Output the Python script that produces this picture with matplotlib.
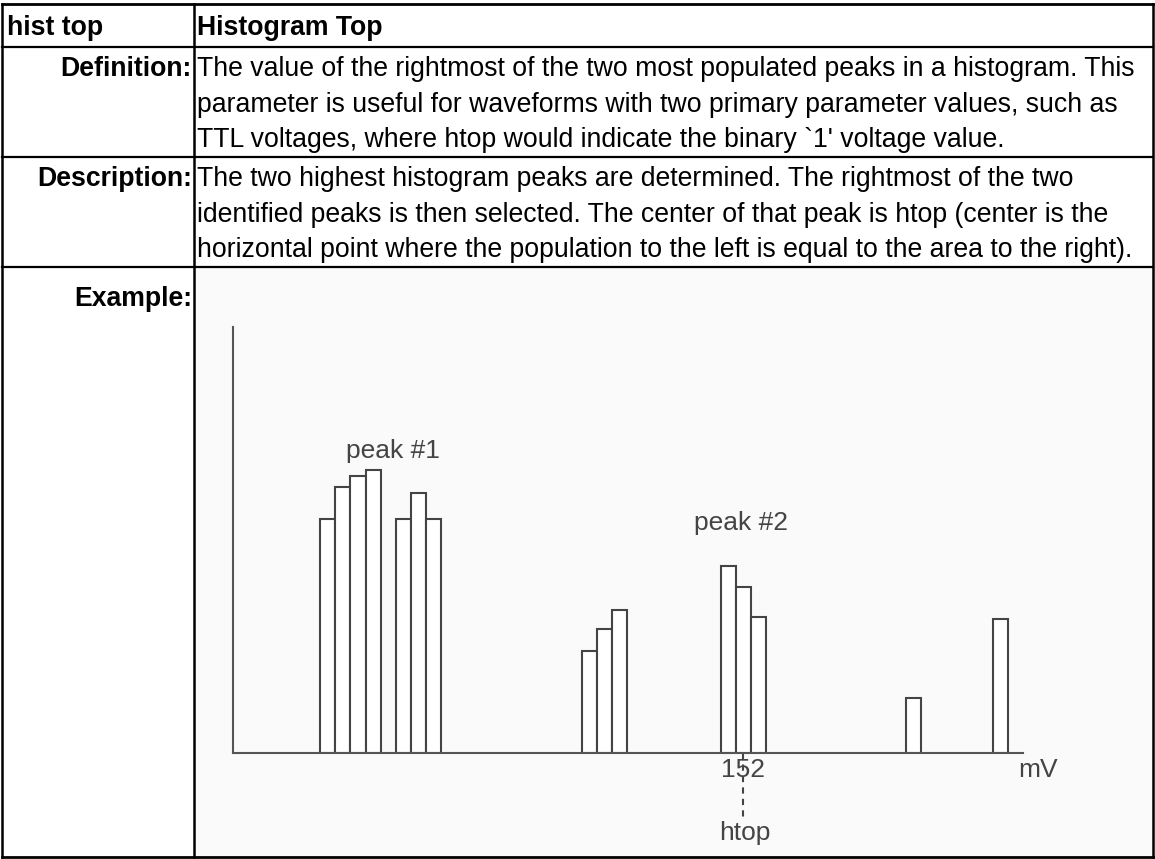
import numpy as np
import matplotlib.pyplot as plt

plt.rcParams['font.family'] = ['Liberation Sans', 'DejaVu Sans']

W, H = 1155, 859

# table text
header_left = "hist top"
header_right = "Histogram Top"
row_labels = ["Definition:", "Description:", "Example:"]
definition_lines = [
    "The value of the rightmost of the two most populated peaks in a histogram. This",
    "parameter is useful for waveforms with two primary parameter values, such as",
    "TTL voltages, where htop would indicate the binary `1' voltage value.",
]
description_lines = [
    "The two highest histogram peaks are determined. The rightmost of the two",
    "identified peaks is then selected. The center of that peak is htop (center is the",
    "horizontal point where the population to the left is equal to the area to the right).",
]

# histogram: bin left edge (mV) and population
bin_left = [26, 30.5, 35, 39.5, 48.5, 53, 57.5,
            104, 108.5, 113,
            145.5, 150, 154.5,
            200.5, 226.5]
bin_count = [55, 62.5, 65, 66.5, 55, 61, 55,
             24, 29, 33.5,
             44, 39, 32,
             13, 31.5]
bin_width = 4.5
htop_value = 152

fig = plt.figure(figsize=(W / 100, H / 100), dpi=100)
fig.patch.set_facecolor("white")

# whole figure in pixel coords for the table
tab = fig.add_axes([0, 0, 1, 1])
tab.set_xlim(0, W)
tab.set_ylim(H, 0)
tab.axis("off")

col_x = 194
row_y = [4, 47, 157, 267, 857]

tab.fill_between([col_x, W - 2], row_y[3], row_y[4], color="#fafafa", lw=0)
for y in row_y:
    lw = 2.0 if y in (row_y[0], row_y[-1]) else 1.6
    tab.plot([1.5, W - 2], [y, y], color="black", lw=lw, solid_capstyle="projecting")
for x in [1.5, col_x, W - 2]:
    tab.plot([x, x], [row_y[0], row_y[-1]], color="black", lw=1.8, solid_capstyle="projecting")

fs = 19.2
tab.text(7, 35, header_left, fontsize=fs, fontweight="bold", va="baseline")
tab.text(col_x + 3, 35, header_right, fontsize=fs, fontweight="bold", va="baseline")

label_base = [76, 186, 306]
for lab, yb in zip(row_labels, label_base):
    tab.text(col_x - 2, yb, lab, fontsize=fs, fontweight="bold", ha="right", va="baseline")

line_gap = 35.5
for i, line in enumerate(definition_lines):
    tab.text(col_x + 3, label_base[0] + i * line_gap, line, fontsize=fs, va="baseline")
for i, line in enumerate(description_lines):
    tab.text(col_x + 3, label_base[1] + i * line_gap, line, fontsize=fs, va="baseline")

# histogram example
hx0, hx1 = 233, 1023
hy0, hy1 = 753, 327
ax = fig.add_axes([hx0 / W, 1 - hy0 / H, (hx1 - hx0) / W, (hy0 - hy1) / H])
ax.patch.set_alpha(0)
ax.bar(bin_left, bin_count, width=bin_width, align="edge",
       facecolor="white", edgecolor="#444444", linewidth=1.5)
ax.set_xlim(0, 235.5)
ax.set_ylim(0, 100)
for s in ["top", "right"]:
    ax.spines[s].set_visible(False)
for s in ["left", "bottom"]:
    ax.spines[s].set_color("#555555")
    ax.spines[s].set_linewidth(1.5)
ax.set_xticks([])
ax.set_yticks([])

txt = dict(fontsize=19, color="#444444", ha="center", va="center")
ax.text(47.7, 71, "peak #1", **txt)
ax.text(151.4, 54, "peak #2", **txt)
ax.text(htop_value, -4, str(htop_value), clip_on=False, **txt)
ax.plot([htop_value, htop_value], [0, -15.3], ls=(0, (3, 2.5)), color="#444444",
        lw=1.5, clip_on=False)
ax.text(htop_value + 0.5, -18.8, "htop", clip_on=False, **txt)
ax.text(240, -4, "mV", clip_on=False, **txt)

plt.savefig("out.png", dpi=100)
